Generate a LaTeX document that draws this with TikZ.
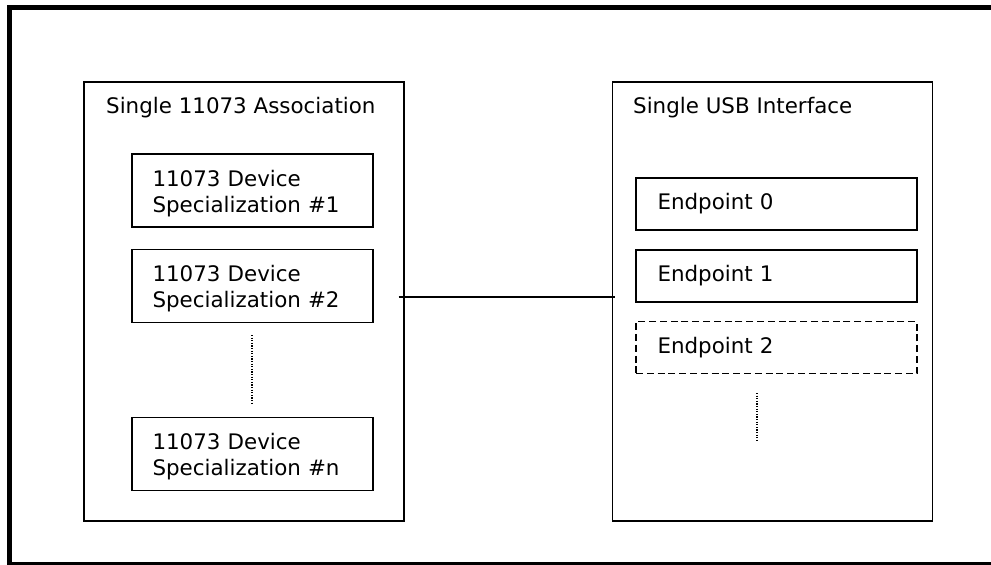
\documentclass[tikz,border=0pt]{standalone}
\usepackage{fontspec}
\setmainfont{DejaVu Sans}
\tikzset{
  panel/.style={draw, line width=1.4pt, minimum width=320pt, minimum height=439pt},
  spec/.style={draw, line width=1.6pt, minimum width=241pt, minimum height=73pt, text width=200pt, inner xsep=20pt, align=left, execute at begin node=\rule{0pt}{22pt}},
  endpt/.style={draw, line width=1.6pt, minimum width=281pt, minimum height=52pt, text width=238pt, inner xsep=21pt, align=left},
  ttl/.style={anchor=base west, inner sep=0pt},
  dots/.style={line width=1.3pt, dash pattern=on 1.2pt off 1.4pt}
}
\begin{document}
\begin{tikzpicture}[x=1pt, y=-1pt, every node/.style={font=\fontsize{21.4pt}{26pt}\selectfont}]
    \useasboundingbox (0,0) rectangle (991,565);
    \draw[line width=5.5pt] (9.5,7.5) rectangle (996,565);
    \node[panel] (assoc) at (244,301.5) {};
    \node[panel] (usb) at (772.5,301.5) {};
    \node[ttl] (assoctitle) at (106,113) {Single 11073 Association};
    \node[ttl] (usbtitle) at (633,113) {Single USB Interface};
    \node[spec] (spec1) at (252.5,190.5) {11073 Device\\Specialization \#1};
    \node[spec] (spec2) at (252.5,286) {11073 Device\\Specialization \#2};
    \node[spec] (specn) at (252.5,454) {11073 Device\\Specialization \#n};
    \node[endpt] (ep0) at (776.5,204) {Endpoint 0};
    \node[endpt] (ep1) at (776.5,276) {Endpoint 1};
    \node[endpt, dash pattern=on 7pt off 3.8pt] (ep2) at (776.5,347.5) {Endpoint 2};
    \coordinate (specdotA) at (252,335);
    \coordinate (specdotB) at (252,405);
    \coordinate (epdotA) at (757,393);
    \coordinate (epdotB) at (757,442);
    \draw[dots] (specdotA) -- (specdotB);
    \draw[dots] (epdotA) -- (epdotB);
    \draw[line width=1.6pt, shorten <=-6pt, shorten >=-3pt] ([yshift=4.5pt]assoc.east) -- ([yshift=4.5pt]usb.west);
\end{tikzpicture}
\end{document}
